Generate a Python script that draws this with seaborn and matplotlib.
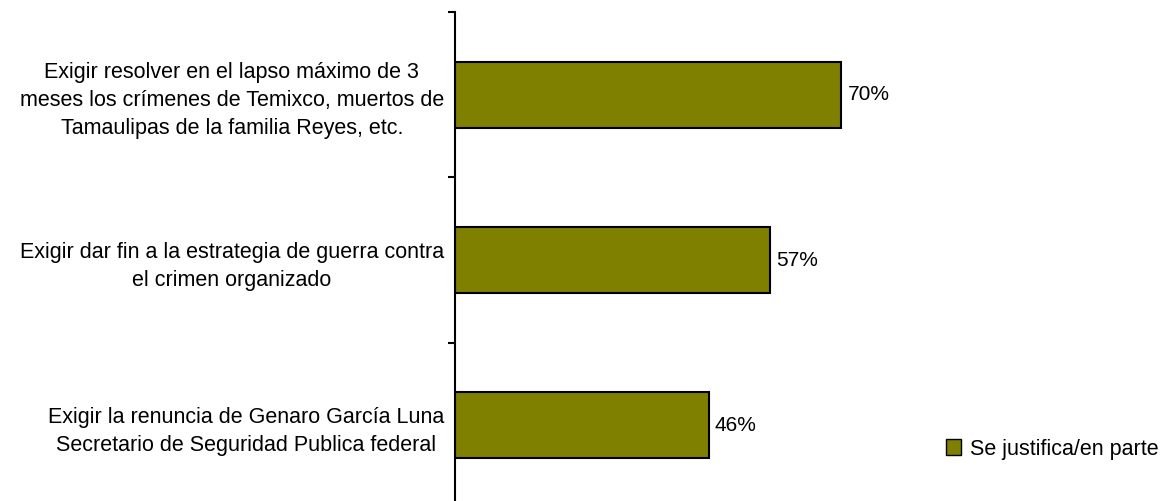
import pandas as pd
import matplotlib.pyplot as plt
import seaborn as sns

categorias = [
    "Exigir resolver en el lapso máximo de 3\nmeses los crímenes de Temixco, muertos de\nTamaulipas de la familia Reyes, etc.",
    "Exigir dar fin a la estrategia de guerra contra\nel crimen organizado",
    "Exigir la renuncia de Genaro García Luna\nSecretario de Seguridad Publica federal",
]
valores = [70, 57, 46]
serie = "Se justifica/en parte"

df = pd.DataFrame({"categoria": categorias, "valor": valores, "serie": serie})

sns.set_style("white")
plt.rcParams['font.family'] = ['Liberation Sans', 'DejaVu Sans']
plt.rcParams['text.color'] = 'black'
plt.rcParams['ytick.color'] = 'black'

fig = plt.figure(figsize=(11.69, 5.01), dpi=100)
ax = fig.add_axes([455 / 1169, -7 / 501, (1007 - 455) / 1169, 496 / 501])

sns.barplot(data=df, x="valor", y="categoria", hue="serie", orient="h",
            palette=["#808000"], saturation=1, edgecolor="black", linewidth=1.5,
            width=0.4, dodge=False, ax=ax, legend=False)

for i, v in enumerate(valores):
    ax.text(v + 1.1, i, f"{v}%", va="center", ha="left", fontsize=15, color="black")

ax.set_xlim(0, 100)
ax.set_ylim(2.5, -0.5)
ax.set_xlabel("")
ax.set_ylabel("")
ax.set_xticks([])
for s in ["top", "right", "bottom"]:
    ax.spines[s].set_visible(False)
ax.spines["left"].set_linewidth(1.5)
ax.spines["left"].set_color("black")

ax.set_yticks([-0.5, 0.5, 1.5, 2.5], minor=True)
ax.tick_params(axis="y", which="minor", length=5, width=1.5, color="black", left=True, direction="out")
ax.tick_params(axis="y", which="major", length=0, pad=8, labelcolor="black")
for lbl in ax.get_yticklabels():
    lbl.set_multialignment("center")
    lbl.set_fontsize(15.5)
    lbl.set_linespacing(1.45)

handle = plt.Rectangle((0, 0), 1, 1, facecolor="#808000", edgecolor="black", linewidth=1)
fig.legend([handle], [serie], loc="center right", bbox_to_anchor=(1.0, 1 - 449 / 501),
           frameon=False, fontsize=15.5, handlelength=0.7, handleheight=0.7,
           handletextpad=0.4, borderaxespad=0.1)

fig.savefig("out.png", dpi=100)
